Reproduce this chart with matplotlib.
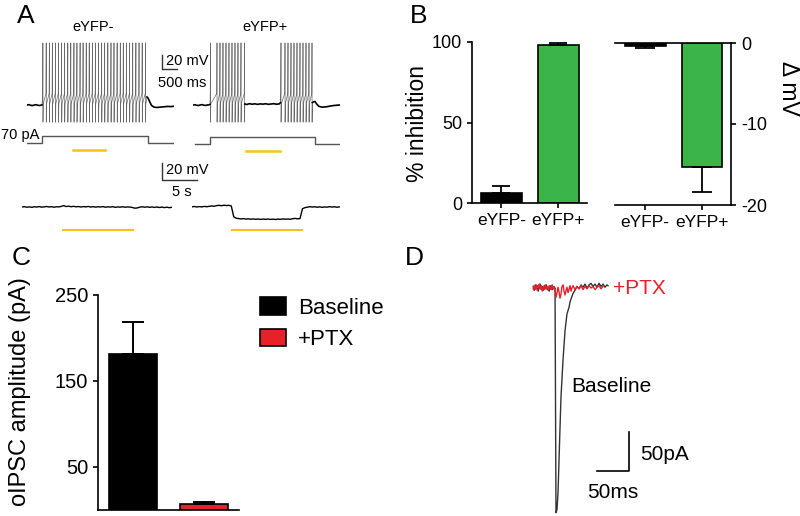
import numpy as np
import matplotlib
matplotlib.use("Agg")
import matplotlib.pyplot as plt

plt.rcParams['font.family'] = ['Liberation Sans', 'DejaVu Sans']
plt.rcParams['axes.unicode_minus'] = False

# ---------------- data ----------------
# Panel A, top: current-step evoked firing (t in ms, V in mV)
stepA_neg_on, stepA_neg_off = 500, 4033
stepA_pos_on, stepA_pos_off = 567, 4067
step_amp_pA = 70
lightA_neg = (1530, 2590)
lightA_pos = (1767, 2900)
spikes_neg = [530, 640, 745, 845, 950, 1050, 1155, 1255, 1360, 1460, 1565, 1665,
              1770, 1870, 1975, 2075, 2180, 2280, 2385, 2490, 2590, 2695, 2800, 2900,
              3005, 3110, 3210, 3315, 3420, 3525, 3630, 3735, 3840, 3950]
spikes_pos = [583, 800, 900, 1000, 1100, 1200, 1300, 1400, 1500, 1600, 1717,
              2933, 3067, 3167, 3267, 3367, 3467, 3567, 3667, 3767, 3867, 3967]
spike_peak, spike_ahp, spike_thr, spike_reset = 27, -86, -45, -60
pre_neg_t = [0, 60, 120, 180, 240, 300, 360, 420, 480, 500]
pre_neg_v = [-61.5, -61.0, -61.9, -62.3, -61.6, -61.1, -61.9, -62.2, -61.6, -61.4]
post_neg_t = [4000, 4040, 4080, 4150, 4230, 4330, 4450, 4570, 4700, 4800, 4900]
post_neg_v = [-50, -52, -56, -62, -64.5, -65, -64.5, -64, -63.5, -63.8, -63.2]
pre_pos_t = [0, 60, 120, 180, 240, 300, 360, 420, 480, 540, 567]
pre_pos_v = [-61.6, -61.1, -61.9, -62.2, -61.5, -61.0, -61.8, -62.1, -61.5, -61.2, -60.5]
mid_pos_t = [1727, 1790, 1880, 1970, 2060, 2150, 2240, 2330, 2420, 2510, 2600, 2690, 2780, 2870, 2910]
mid_pos_v = [-60, -60.8, -59.6, -60.4, -59.8, -60.6, -59.9, -60.3, -59.7, -60.5, -60.1, -59.6, -60.4, -60.0, -58.5]
post_pos_t = [3977, 4020, 4067, 4120, 4200, 4300, 4400, 4500, 4600, 4700, 4800, 4900]
post_pos_v = [-58, -57, -56.5, -60, -63.5, -64.5, -64.3, -63.6, -62.8, -62.2, -61.8, -61.5]

# Panel A, bottom: light-evoked membrane potential (t in s, V in mV)
dt_slow = 0.35
lightA2_neg = (5.85, 15.84)
lightA2_pos = (5.71, 15.70)
slow_neg_v = [-62.0, -61.6, -62.3, -61.8, -62.4, -61.7, -62.1, -61.5, -62.2, -61.9,
              -61.4, -62.0, -61.6, -62.3, -61.7, -61.9, -61.3, -60.4, -61.5, -61.0,
              -61.7, -61.2, -61.8, -61.4, -62.0, -61.5, -61.9, -61.3, -62.1, -61.6,
              -62.2, -61.7, -62.0, -61.5, -62.3, -61.8, -62.1, -61.6, -62.4, -61.9,
              -62.2, -61.7, -62.3, -61.9, -62.1, -62.6, -63.4, -63.1, -62.2, -61.7,
              -62.3, -61.8, -62.4, -61.9, -62.5, -62.0, -62.6, -62.1, -62.7, -62.2,
              -62.8, -62.4]
slow_pos_v = [-61.8, -61.4, -62.0, -61.5, -61.9, -61.3, -61.7, -61.2, -60.8, -61.1,
              -60.4, -60.0, -60.5, -59.9, -60.3, -60.0, -60.8, -73.5, -75.2, -75.6,
              -76.0, -75.7, -76.2, -75.9, -76.4, -76.0, -76.5, -76.1, -76.6, -76.2,
              -76.5, -76.1, -76.6, -76.3, -76.7, -76.2, -76.5, -76.0, -76.4, -76.1,
              -76.5, -75.8, -75.4, -75.9, -75.6, -64.0, -62.8, -62.2, -61.6, -62.1,
              -61.7, -62.3, -61.8, -62.4, -61.9, -62.2, -61.6, -62.1, -61.7, -62.3,
              -61.9]

# Panel B
groups_B = ['eYFP-', 'eYFP+']
inhibition_pct = [6.2, 98.1]
inhibition_sem = [4.4, 1.5]
delta_mV = [-0.35, -15.3]
delta_mV_sem = [0.25, 3.1]

# Panel C
groups_C = ['Baseline', '+PTX']
oipsc_pA = [181, 7]
oipsc_sem = [38, 2.5]

# Panel D: oIPSC traces (t in ms, I in pA)
ipsc_base_t = [5, 6.6, 8.1, 9.7, 11.2, 12.8, 14.4, 15.9, 17.5, 19.1, 20.6, 22.2, 23.8,
               25.3, 26.9, 28.4, 30.0, 31.6, 33.1, 34.7, 36.3, 37.8, 39.1, 40.6, 42.2,
               43.8, 46.1, 48.4, 51.6, 54.7, 57.8, 60.9, 62.5, 64.1, 67.2, 70.3, 73.4,
               76.6, 79.7, 82.8, 85.9, 89.1, 92.2, 95.3, 98.4, 101.6, 104.7, 107.8,
               110.9, 114.1, 117.2, 120.3, 121.9]
ipsc_base_i = [2, -3, 4, -1, 3, -4, 1, 5, -2, 2, -3, 3, -1, 4, -2, 1, -4, 2, 3, -2, 1,
               -1, 0, -288, -284, -262, -200, -140, -92, -55, -33, -25, -18, -14, -7,
               -3, 2, -1, 4, 1, 5, 0, 4, 6, 2, 5, 1, 6, 2, 5, 1, 4, 3]
ipsc_ptx_t = [5, 6.6, 8.1, 9.7, 11.2, 12.8, 14.4, 15.9, 17.5, 19.1, 20.6, 22.2, 23.8,
              25.3, 26.9, 28.4, 30.0, 31.6, 33.1, 34.7, 36.3, 37.8, 39.1, 40.6, 42.2,
              43.8, 45.3, 46.9, 48.4, 50.0, 51.6, 53.1, 54.7, 56.3, 57.8, 59.4, 60.9,
              62.5, 64.1, 65.6, 67.2, 70.3, 73.4, 76.6, 79.7, 82.8, 85.9, 89.1, 92.2,
              95.3, 98.4, 101.6, 104.7, 107.8, 110.9, 114.1]
ipsc_ptx_i = [-1, 3, -2, 4, -3, 2, 5, -1, 3, -4, 1, -2, 4, -1, 2, -3, 3, 0, -2, 4, -1,
              2, -3, -12, -6, 1, -5, -13, -8, 2, 4, -4, -9, -3, 1, -6, -2, 3, -4, 0, 3,
              -2, 2, -1, 3, -2, 2, -1, 3, 0, 2, -2, 1, 3, -1, 2]

# ---------------- figure ----------------
W, H = 800, 516
fig = plt.figure(figsize=(W / 100, H / 100), dpi=100)


def box(x0, y0, x1, y1):
    return [x0 / W, 1 - y1 / H, (x1 - x0) / W, (y1 - y0) / H]


def trace_axes(x0, y0, x1, y1, xlim, ylim):
    ax = fig.add_axes(box(x0, y0, x1, y1))
    ax.set_xlim(*xlim)
    ax.set_ylim(*ylim)
    ax.axis('off')
    return ax


def ftext(x, y, s, **kw):
    kw.setdefault('va', 'center')
    fig.text(x / W, 1 - y / H, s, **kw)


def spike_points(spikes):
    ts, vs = [], []
    for s in spikes:
        ts += [s - 8, s, s + 3, s + 10]
        vs += [spike_thr, spike_peak, spike_ahp, spike_reset]
    return ts, vs


YEL = '#F7C21B'
GRN = '#3BB44A'
RED = '#E8202A'
SPK = '#6a6a6a'

# ----- Panel A top traces -----
axL = trace_axes(27, 38, 174, 125, (0, 4900), (-90, 34))
st, sv = spike_points(spikes_neg)
axL.plot([pre_neg_t[-1]] + st + [post_neg_t[0]], [pre_neg_v[-1]] + sv + [post_neg_v[0]],
         color=SPK, lw=0.5)
axL.plot(pre_neg_t, pre_neg_v, color='black', lw=1.2)
axL.plot(post_neg_t, post_neg_v, color='black', lw=1.2)
# scale bar 20 mV / 500 ms
axL.plot([4500, 4500, 5000], [9.8, -10.2, -10.2], color='#333333', lw=1.0, clip_on=False)

axR = trace_axes(193, 38, 340, 125, (0, 4900), (-90, 34))
st1, sv1 = spike_points(spikes_pos[:11])
st2, sv2 = spike_points(spikes_pos[11:])
axR.plot([pre_pos_t[-1]] + st1 + [mid_pos_t[0]], [pre_pos_v[-1]] + sv1 + [mid_pos_v[0]],
         color=SPK, lw=0.5)
axR.plot([mid_pos_t[-1]] + st2 + [post_pos_t[0]], [mid_pos_v[-1]] + sv2 + [post_pos_v[0]],
         color=SPK, lw=0.5)
for tt, vv in [(pre_pos_t, pre_pos_v), (mid_pos_t, mid_pos_v), (post_pos_t, post_pos_v)]:
    axR.plot(tt, vv, color='black', lw=1.2)

# current steps + light bars
for (x0, y0, x1, y1), on, off, t0, light in [((27, 130, 174, 155), stepA_neg_on, stepA_neg_off, 0, lightA_neg),
                                             ((193, 131, 340, 156), stepA_pos_on, stepA_pos_off, 67, lightA_pos)]:
    axI = trace_axes(x0, y0, x1, y1, (0, 4900), (-120, 130))
    axI.plot([t0, on, on, off, off, 4900], [0, 0, step_amp_pA, step_amp_pA, 0, 0],
             color='#555555', lw=1.0)
    axI.plot(light, [0.2, 0.2], color=YEL, lw=1.8, transform=axI.get_xaxis_transform())

# ----- Panel A bottom traces -----
axBL = trace_axes(22, 195, 172, 240, (0, 21.4), (-100.8, -47.9))
axBL.plot(np.arange(len(slow_neg_v)) * dt_slow, slow_neg_v, color='black', lw=1.0)
axBL.plot(lightA2_neg, [0.22, 0.22], color=YEL, lw=1.5, transform=axBL.get_xaxis_transform())
axBL.plot([20, 20, 25], [-10.2, -30.2, -30.2], color='#333333', lw=1.0, clip_on=False)

axBR = trace_axes(192, 195, 340, 240, (0, 21.1), (-100.8, -47.9))
axBR.plot(np.arange(len(slow_pos_v)) * dt_slow, slow_pos_v, color='black', lw=1.0)
axBR.plot(lightA2_pos, [0.22, 0.22], color=YEL, lw=1.5, transform=axBR.get_xaxis_transform())

ftext(17, 16, 'A', fontsize=19)
ftext(93, 27, 'eYFP-', fontsize=10.5, ha='center')
ftext(265, 27, 'eYFP+', fontsize=10.5, ha='center')
ftext(166, 61, '20 mV', fontsize=10.5)
ftext(158, 83, '500 ms', fontsize=10.5)
ftext(39, 135, '70 pA', fontsize=10.5, ha='right')
ftext(166, 170, '20 mV', fontsize=10.5)
ftext(172, 192, '5 s', fontsize=10.5)

# ----- Panel B -----
def style_bar_axes(ax):
    for s in ax.spines.values():
        s.set_linewidth(1.2)
    ax.tick_params(width=1.2, length=3.6)


axB1 = fig.add_axes(box(472, 42, 587, 203))
axB1.bar([0, 1], inhibition_pct, width=0.72, color=['black', GRN], edgecolor='black',
         linewidth=1.2, yerr=[[0, 0], inhibition_sem], capsize=6.5,
         error_kw=dict(elinewidth=1.3, capthick=1.3))
axB1.set_xlim(-0.52, 1.51)
axB1.set_ylim(0, 100)
axB1.set_yticks([0, 50, 100])
axB1.set_xticks([0, 1])
axB1.set_xticklabels(groups_B, fontsize=12.5)
axB1.tick_params(axis='y', labelsize=13)
axB1.spines['top'].set_visible(False)
axB1.spines['right'].set_visible(False)
style_bar_axes(axB1)

axB2 = fig.add_axes(box(615, 43, 731, 205))
axB2.bar([0, 1], delta_mV, width=0.72, color=['black', GRN], edgecolor='black',
         linewidth=1.2, yerr=[delta_mV_sem, [0, 0]], capsize=7,
         error_kw=dict(elinewidth=1.3, capthick=1.3))
axB2.set_xlim(-0.53, 1.51)
axB2.set_ylim(-20, 0)
axB2.set_yticks([-20, -10, 0])
axB2.set_xticks([0, 1])
axB2.set_xticklabels(groups_B, fontsize=12.5)
axB2.yaxis.tick_right()
axB2.tick_params(axis='y', labelsize=13)
axB2.spines['left'].set_visible(False)
style_bar_axes(axB2)

ftext(410, 16, 'B', fontsize=19)
ftext(418, 124, '% inhibition', fontsize=16.5, rotation=90, ha='center')
ftext(789, 88, 'Δ mV', fontsize=16.5, rotation=270, ha='center')

# ----- Panel C -----
axC = fig.add_axes(box(98, 295, 239, 510))
barsC = axC.bar([0, 1], oipsc_pA, width=0.68, color=['black', RED], edgecolor='black',
                linewidth=1.2, yerr=[[0, 0], oipsc_sem], capsize=8,
                error_kw=dict(elinewidth=1.4, capthick=1.4))
axC.set_xlim(-0.5, 1.5)
axC.set_ylim(0, 250)
axC.set_yticks([50, 150, 250])
axC.set_xticks([])
axC.tick_params(axis='y', labelsize=14.5)
axC.spines['top'].set_visible(False)
axC.spines['right'].set_visible(False)
style_bar_axes(axC)
axC.legend(barsC.patches, groups_C, loc='upper left', bbox_to_anchor=(260 / W, 1 - 297 / H),
           bbox_transform=fig.transFigure, frameon=False, fontsize=16, borderpad=0,
           borderaxespad=0, handlelength=1.15, handleheight=0.85, handletextpad=0.55,
           labelspacing=0.45)

ftext(12, 258, 'C', fontsize=19)
ftext(20, 392, 'oIPSC amplitude (pA)', fontsize=17, rotation=90, ha='center')

# ----- Panel D -----
axD = trace_axes(530, 280, 612, 516, (0, 128.1), (-292.3, 10.26))
axD.plot(ipsc_base_t, ipsc_base_i, color='#333333', lw=1.0, clip_on=False)
axD.plot(ipsc_ptx_t, ipsc_ptx_i, color=RED, lw=1.0, clip_on=False)
axD.plot([104.7, 154.7, 154.7], [-234.6, -234.6, -184.6], color='black', lw=1.2, clip_on=False)

ftext(405, 258, 'D', fontsize=19)
ftext(613, 289, '+PTX', fontsize=15, color=RED)
ftext(571, 386, 'Baseline', fontsize=15)
ftext(640, 455, '50pA', fontsize=15)
ftext(587, 493, '50ms', fontsize=15)

fig.savefig('out.png', dpi=100)
